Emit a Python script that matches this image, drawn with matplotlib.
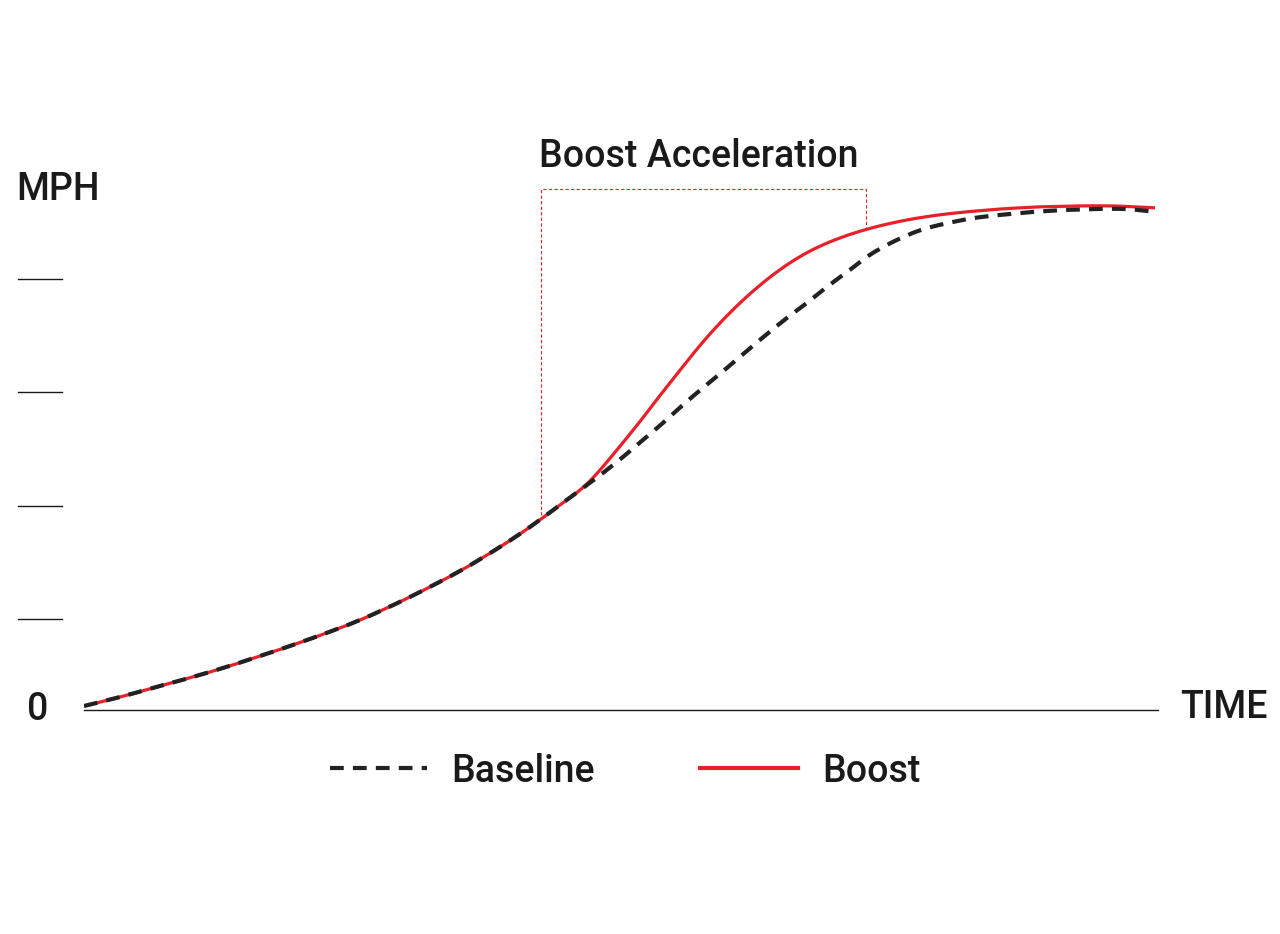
import matplotlib
matplotlib.use("Agg")
import numpy as np
import matplotlib.pyplot as plt
from matplotlib.lines import Line2D
from matplotlib.path import Path
from matplotlib.patches import PathPatch

# Time (s) and speed (mph)
base_t = [0.0, 0.335, 0.708, 1.173, 1.639, 2.104, 2.570, 3.035, 3.501, 3.873, 4.153,
          4.432, 4.646, 4.832, 5.019, 5.205, 5.391, 5.577, 5.763, 5.987, 6.294, 6.546,
          6.732, 6.918, 7.132, 7.318, 7.533, 7.784, 8.035, 8.371, 8.994, 9.618, 9.972]
base_v = [0.88, 2.86, 5.29, 8.37, 11.89, 15.64, 19.82, 24.89, 30.62, 35.90, 40.31,
          45.15, 48.90, 52.20, 55.73, 59.47, 63.22, 67.18, 70.93, 75.33, 81.50, 86.34,
          89.65, 93.17, 96.92, 100.22, 103.08, 105.62, 107.16, 108.59, 109.91, 110.35, 109.69]

boost_t = [0.0, 0.335, 0.708, 1.173, 1.639, 2.104, 2.570, 3.035, 3.501, 3.873, 4.153,
           4.432, 4.711, 5.084, 5.456, 5.829, 6.201, 6.574, 6.946, 7.412, 7.970, 8.715,
           9.460, 9.972]
boost_v = [0.88, 2.86, 5.29, 8.37, 11.89, 15.64, 19.82, 24.89, 30.62, 35.90, 40.31,
           45.15, 50.44, 60.79, 72.03, 82.82, 91.63, 98.46, 103.08, 106.61, 109.03, 110.57,
           111.01, 110.57]

tick_v = [20, 45, 70, 95]
bracket_t = [4.255, 7.28]
bracket_top = 114.8
bracket_low = [43.0, 105.8]

RED = "#e8202a"
DARK = "#222222"
TXT = "#1a1a1a"


def smooth_path(xs, ys):
    # Catmull-Rom through the read points, drawn as cubic bezier segments
    p = np.column_stack([xs, ys])
    verts = [p[0]]
    codes = [Path.MOVETO]
    n = len(p)
    for i in range(n - 1):
        p0 = p[i - 1] if i > 0 else p[i]
        p1, p2 = p[i], p[i + 1]
        p3 = p[i + 2] if i + 2 < n else p[i + 1]
        c1 = p1 + (p2 - p0) / 6.0
        c2 = p2 - (p3 - p1) / 6.0
        verts += [c1, c2, p2]
        codes += [Path.CURVE4] * 3
    return Path(verts, codes)


plt.rcParams['font.family'] = ['Roboto', 'DejaVu Sans']

fig = plt.figure(figsize=(12.8, 9.34), dpi=100)
ax = fig.add_axes([0.065625, 0.23983, 0.8390625, 0.59957])

ax.add_patch(PathPatch(smooth_path(boost_t, boost_v), fill=False, edgecolor=RED,
                       lw=2.3, zorder=3))
ax.add_patch(PathPatch(smooth_path(base_t, base_v), fill=False, edgecolor=DARK,
                       lw=3.0, linestyle=(0, (3.3, 2.2)), capstyle='butt', zorder=4))

# bracket over the boost region
ax.plot([bracket_t[0], bracket_t[0], bracket_t[1], bracket_t[1]],
        [bracket_low[0], bracket_top, bracket_top, bracket_low[1]],
        color=RED, lw=0.8, dashes=(3, 2), zorder=2, clip_on=False)

ax.set_xlim(0, 10)
ax.set_ylim(0, 123.3)
for s in ['top', 'right', 'left']:
    ax.spines[s].set_visible(False)
ax.spines['bottom'].set_color(TXT)
ax.spines['bottom'].set_linewidth(1.0)
ax.set_xticks([])
ax.set_yticks([])

# short tick marks left of the plot
trans = ax.get_yaxis_transform()
for v in tick_v:
    ax.plot([-0.0615, -0.0205], [v, v], color=TXT, lw=1.0, transform=trans, clip_on=False)

fs = 27
fig.text(699 / 1280, 1 - 157 / 934, "Boost Acceleration", ha='center', va='center',
         fontsize=fs, fontweight='medium', color=TXT)
fig.text(16 / 1280, 1 - 190 / 934, "MPH", ha='left', va='center',
         fontsize=fs, fontweight='medium', color=TXT)
fig.text(38 / 1280, 1 - 710 / 934, "0", ha='center', va='center',
         fontsize=fs, fontweight='medium', color=TXT)
fig.text(1180 / 1280, 1 - 708 / 934, "TIME", ha='left', va='center',
         fontsize=fs, fontweight='medium', color=TXT)

handles = [Line2D([], [], color=DARK, lw=3.0, dashes=(3.3, 2.2)),
           Line2D([], [], color=RED, lw=3.0)]
leg = fig.legend(handles, ["Baseline", "Boost"], loc='center',
                 bbox_to_anchor=(625 / 1280, 1 - 771 / 934), ncol=2, frameon=False,
                 fontsize=fs, handlelength=2.6, handletextpad=0.65, columnspacing=2.8)
for t in leg.get_texts():
    t.set_color(TXT)
    t.set_fontweight('medium')

fig.savefig("out.png", dpi=100, facecolor='white')
